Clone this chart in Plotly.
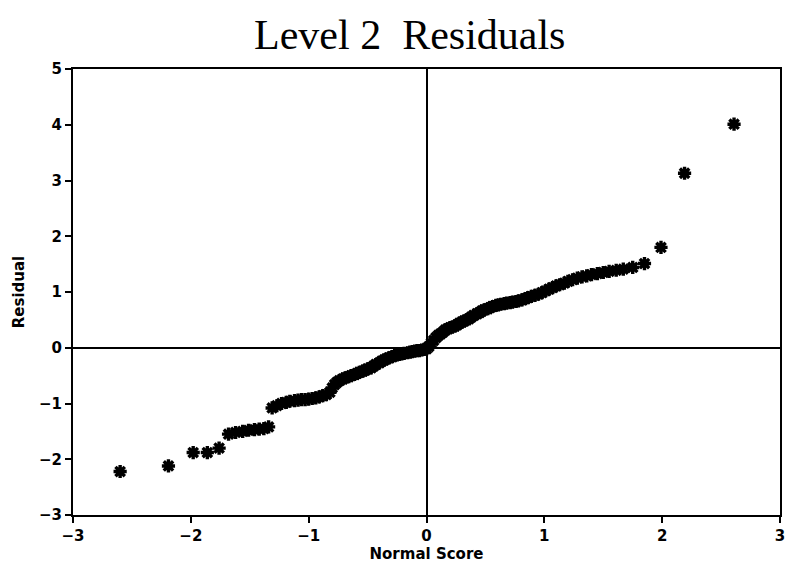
import plotly.graph_objects as go

normal_score = [
    -2.60, -2.19, -1.98, -1.86, -1.76, -1.68, -1.62, -1.56, -1.51, -1.46,
    -1.42, -1.38, -1.34, -1.31, -1.27, -1.23, -1.19, -1.16, -1.12, -1.09,
    -1.06, -1.03, -1.00, -0.97, -0.94, -0.91, -0.88, -0.85, -0.82, -0.80,
    -0.78, -0.76, -0.74, -0.71, -0.69, -0.66, -0.64, -0.61, -0.59, -0.57,
    -0.54, -0.52, -0.50, -0.47, -0.45, -0.43, -0.40, -0.38, -0.36, -0.34,
    -0.32, -0.29, -0.27, -0.25, -0.23, -0.21, -0.19, -0.16, -0.14, -0.12,
    -0.10, -0.08, -0.06, -0.04, -0.02, 0.00, 0.02, 0.04, 0.06, 0.08,
    0.10, 0.12, 0.14, 0.16, 0.18, 0.20, 0.22, 0.24, 0.26, 0.28,
    0.30, 0.32, 0.34, 0.36, 0.38, 0.40, 0.43, 0.45, 0.47, 0.49,
    0.52, 0.54, 0.56, 0.59, 0.61, 0.63, 0.66, 0.68, 0.71, 0.73,
    0.76, 0.78, 0.81, 0.84, 0.86, 0.89, 0.92, 0.95, 0.98, 1.01,
    1.04, 1.07, 1.10, 1.13, 1.17, 1.20, 1.24, 1.28, 1.32, 1.36,
    1.40, 1.45, 1.50, 1.55, 1.61, 1.67, 1.75, 1.85, 1.99, 2.19,
    2.61,
]
residual = [
    -2.22, -2.12, -1.88, -1.88, -1.80, -1.55, -1.52, -1.50, -1.48, -1.47,
    -1.46, -1.45, -1.42, -1.08, -1.04, -1.00, -0.98, -0.96, -0.95, -0.94,
    -0.93, -0.93, -0.92, -0.91, -0.90, -0.88, -0.86, -0.84, -0.80, -0.72,
    -0.66, -0.62, -0.59, -0.56, -0.54, -0.52, -0.50, -0.48, -0.46, -0.44,
    -0.42, -0.40, -0.38, -0.36, -0.33, -0.30, -0.27, -0.24, -0.22, -0.20,
    -0.18, -0.16, -0.14, -0.13, -0.12, -0.11, -0.10, -0.09, -0.08, -0.07,
    -0.06, -0.05, -0.05, -0.04, -0.03, -0.02, 0.02, 0.08, 0.13, 0.18,
    0.22, 0.25, 0.28, 0.32, 0.34, 0.36, 0.37, 0.39, 0.41, 0.44,
    0.46, 0.48, 0.50, 0.52, 0.55, 0.58, 0.61, 0.63, 0.66, 0.68,
    0.70, 0.72, 0.74, 0.76, 0.77, 0.78, 0.79, 0.80, 0.81, 0.82,
    0.83, 0.84, 0.86, 0.88, 0.90, 0.92, 0.94, 0.96, 0.99, 1.02,
    1.05, 1.08, 1.11, 1.13, 1.16, 1.19, 1.22, 1.25, 1.27, 1.29,
    1.31, 1.33, 1.35, 1.37, 1.39, 1.41, 1.44, 1.51, 1.80, 3.13,
    4.01,
]

x_ticks = [-3, -2, -1, 0, 1, 2, 3]
y_ticks = [-3, -2, -1, 0, 1, 2, 3, 4, 5]


def fmt(v):
    return ("\u2212" + str(-v)) if v < 0 else str(v)


tick_font = dict(family="DejaVu Sans", size=15, color="black", weight="bold")
title_font = dict(family="DejaVu Sans", size=15, color="black", weight="bold")

fig = go.Figure()
fig.add_trace(go.Scatter(
    x=normal_score, y=residual, mode="markers",
    marker=dict(symbol="asterisk-open", size=11, color="black",
                line=dict(color="black", width=3.4)),
    showlegend=False, hoverinfo="x+y",
))

fig.update_layout(
    width=788, height=572,
    margin=dict(l=73, r=8, t=69, b=57),
    paper_bgcolor="white", plot_bgcolor="white",
    title=dict(text="Level 2\u00a0\u00a0Residuals", x=0.52, xanchor="center",
               y=0.94, yanchor="middle",
               font=dict(family="Liberation Serif", size=42, color="black")),
    xaxis=dict(range=[-3, 3], tickvals=x_ticks, ticktext=[fmt(v) for v in x_ticks],
               automargin=False, ticklabeloverflow="allow",
               showgrid=False, zeroline=True, zerolinecolor="black", zerolinewidth=2,
               showline=True, linecolor="black", linewidth=2, mirror=True,
               ticks="outside", ticklen=6, tickwidth=2, tickcolor="black",
               tickfont=tick_font,
               title=dict(text="Normal Score", standoff=2, font=title_font)),
    yaxis=dict(range=[-3, 5], tickvals=y_ticks, ticktext=[fmt(v) for v in y_ticks],
               automargin=False,
               showgrid=False, zeroline=True, zerolinecolor="black", zerolinewidth=2,
               showline=True, linecolor="black", linewidth=2, mirror=True,
               ticks="outside", ticklen=6, tickwidth=2, tickcolor="black",
               tickfont=tick_font,
               title=dict(text="Residual", standoff=11, font=title_font)),
)

fig.write_html("out.html", config={"displayModeBar": False},
               post_script="document.body.style.margin='0';document.body.style.overflow='hidden';")
